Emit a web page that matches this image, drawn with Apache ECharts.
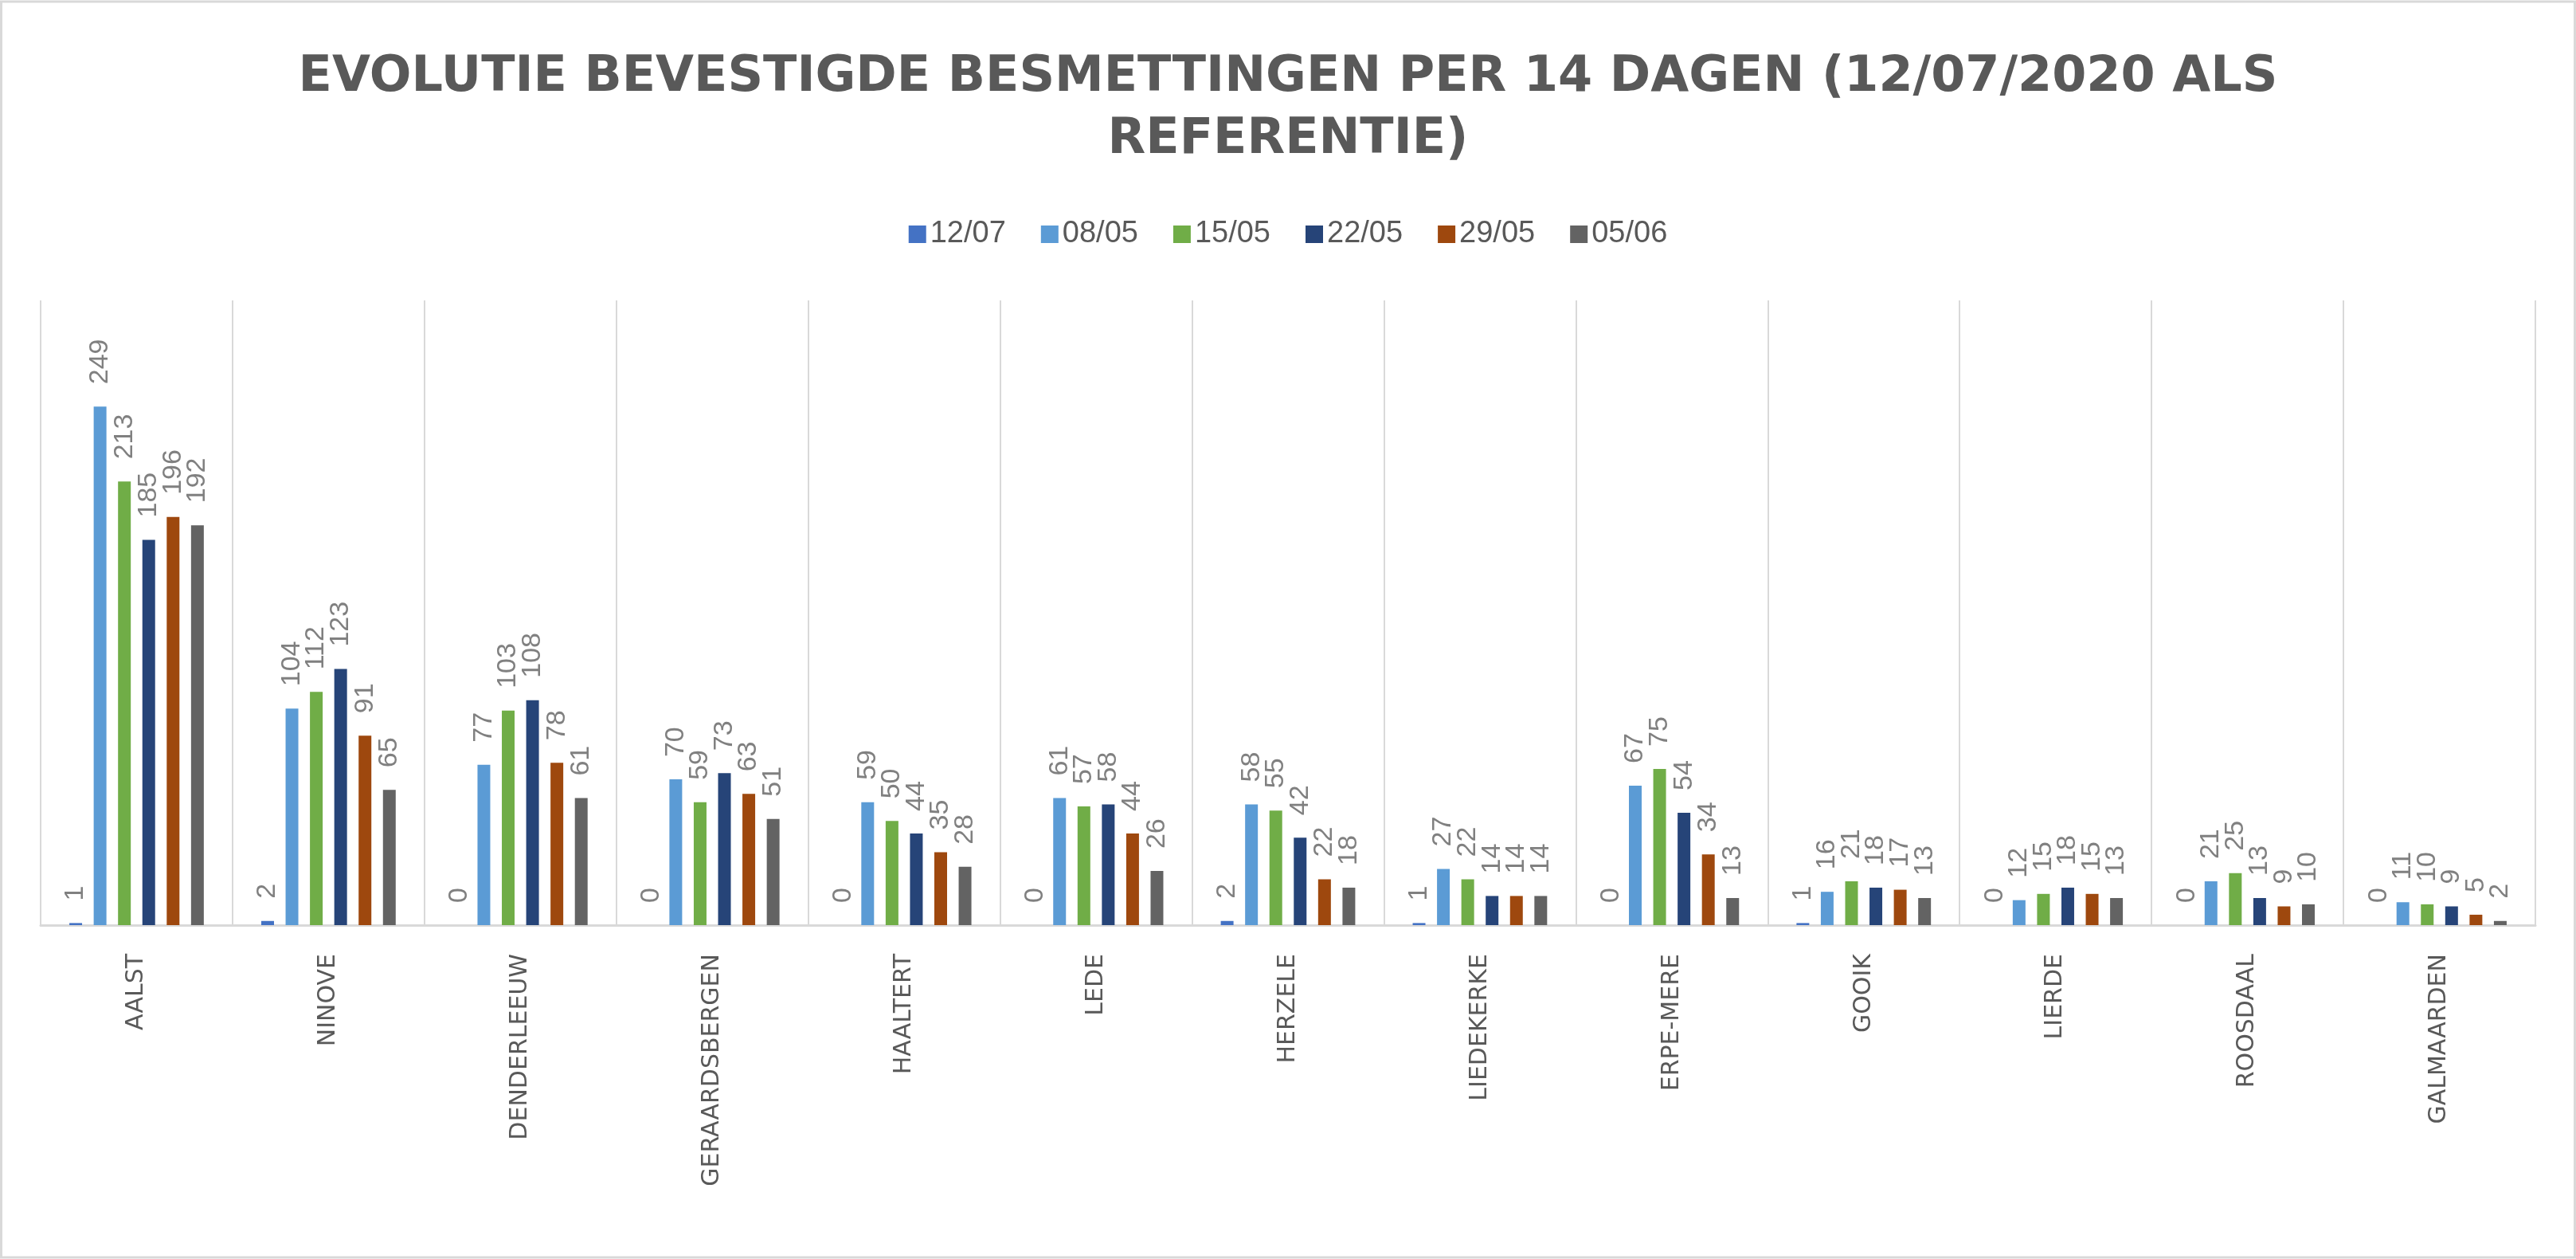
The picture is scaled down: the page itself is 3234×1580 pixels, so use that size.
<!DOCTYPE html>
<html>
<head>
<meta charset="utf-8">
<script src="https://cdn.jsdelivr.net/npm/echarts@6/dist/echarts.min.js"></script>
<style>
html,body{margin:0;padding:0;background:#fff;}
#chart{width:3234px;height:1580px;}
</style>
</head>
<body>
<div id="chart"></div>
<script>
var categories = ["AALST","NINOVE","DENDERLEEUW","GERAARDSBERGEN","HAALTERT","LEDE","HERZELE","LIEDEKERKE","ERPE-MERE","GOOIK","LIERDE","ROOSDAAL","GALMAARDEN"];
var seriesNames = ["12/07","08/05","15/05","22/05","29/05","05/06"];
var s1207 = [1,2,0,0,0,0,2,1,0,1,0,0,0];
var s0805 = [249,104,77,70,59,61,58,27,67,16,12,21,11];
var s1505 = [213,112,103,59,50,57,55,22,75,21,15,25,10];
var s2205 = [185,123,108,73,44,58,42,14,54,18,18,13,9];
var s2905 = [196,91,78,63,35,44,22,14,34,17,15,9,5];
var s0506 = [192,65,61,51,28,26,18,14,13,13,13,10,2];
var colors = ["#4472C4","#5B9BD5","#70AD47","#264478","#9E480E","#636363"];
var titleText = "EVOLUTIE BEVESTIGDE BESMETTINGEN PER 14 DAGEN (12/07/2020 ALS\nREFERENTIE)";

var allData = [s1207,s0805,s1505,s2205,s2905,s0506];
var chart = echarts.init(document.getElementById('chart'), null, {renderer:'canvas'});
var series = allData.map(function(d,i){
  return {
    name: seriesNames[i],
    type: 'bar',
    data: d,
    barWidth: 16,
    barGap: '91%',
    itemStyle: {color: colors[i]},
    label: {
      show: true,
      position: 'top',
      rotate: 90,
      align: 'left',
      verticalAlign: 'middle',
      distance: 28,
      color: '#808080',
      fontSize: 34,
      fontFamily: 'Liberation Sans'
    }
  };
});
chart.setOption({
  animation: false,
  backgroundColor: '#fff',
  color: colors,
  title: {
    text: titleText,
    left: 'center',
    top: 54,
    textStyle: {
      fontFamily: 'DejaVu Sans',
      fontWeight: 'bold',
      fontSize: 62,
      lineHeight: 78,
      color: '#595959'
    }
  },
  legend: {
    data: seriesNames,
    left: 'center',
    top: 270,
    icon: 'rect',
    itemWidth: 22,
    itemHeight: 22,
    itemGap: 44,
    textStyle: {fontFamily: 'Liberation Sans', fontSize: 38, color: '#595959'}
  },
  grid: {left: 51, right: 51, top: 377, bottom: 419, containLabel: false},
  xAxis: {
    type: 'category',
    data: categories,
    axisLine: {show: true, lineStyle: {color: '#D9D9D9', width: 3}},
    axisTick: {show: false},
    splitLine: {show: true, lineStyle: {color: '#D9D9D9', width: 2}},
    axisLabel: {
      rotate: 90,
      margin: 36,
      interval: 0,
      fontFamily: 'DejaVu Sans',
      fontSize: 30,
      color: '#595959'
    }
  },
  yAxis: {
    type: 'value',
    min: 0,
    max: 300,
    interval: 50,
    show: false,
    splitLine: {show: false}
  },
  graphic: [{
    type: 'rect',
    shape: {x: 1.5, y: 2, width: 3231, height: 1576},
    style: {fill: 'none', stroke: '#D9D9D9', lineWidth: 3},
    silent: true
  }],
  series: series
});
</script>
</body>
</html>
